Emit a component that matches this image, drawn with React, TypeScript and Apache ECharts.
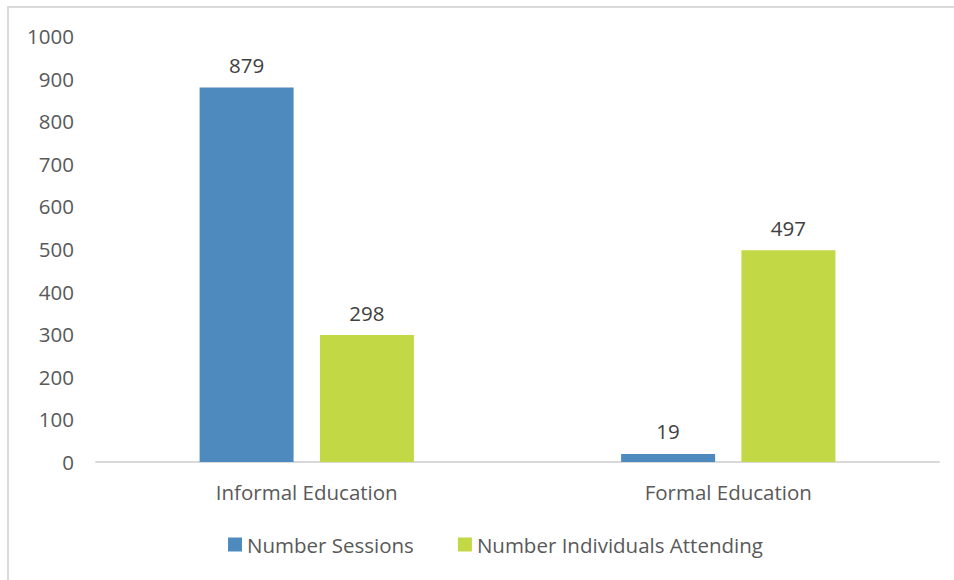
import React, { useEffect, useRef } from "react";
import * as echarts from "echarts";

const categories = ["Informal Education", "Formal Education"];
const sessions = [879, 19];
const individuals = [298, 497];
const seriesNames = ["Number Sessions", "Number Individuals Attending"];
const yTicks = { min: 0, max: 1000, interval: 100 };

const FONT = "'Open Sans', 'Noto Sans', sans-serif";
const FS = 20.5;

export default function App() {
  const ref = useRef<HTMLDivElement>(null);
  useEffect(() => {
    if (!ref.current) return;
    const chart = echarts.init(ref.current, undefined, { renderer: "svg" });
    const label = {
      show: true,
      position: "top" as const,
      distance: 12,
      color: "#404040",
      fontSize: FS,
      fontFamily: FONT,
    };
    chart.setOption({
      animation: false,
      backgroundColor: "#ffffff",
      textStyle: { fontFamily: FONT },
      grid: { left: 96, right: 15, top: 36, bottom: 118, containLabel: false },
      legend: {
        bottom: 20,
        left: 223,
        itemWidth: 14,
        itemHeight: 14,
        itemGap: 44,
        icon: "rect",
        textStyle: { color: "#595959", fontSize: FS, fontFamily: FONT },
        data: seriesNames,
      },
      xAxis: {
        type: "category",
        data: categories,
        axisLine: { lineStyle: { color: "#d9d9d9", width: 2 } },
        axisTick: { show: false },
        axisLabel: { color: "#595959", fontSize: FS, fontFamily: FONT, margin: 19 },
      },
      yAxis: {
        type: "value",
        min: yTicks.min,
        max: yTicks.max,
        interval: yTicks.interval,
        axisLine: { show: false },
        axisTick: { show: false },
        splitLine: { show: false },
        axisLabel: {
          color: "#595959",
          fontSize: FS,
          fontFamily: FONT,
          margin: 22,
          formatter: (v: number) => String(v),
        },
      },
      series: [
        {
          name: seriesNames[0],
          type: "bar",
          data: sessions,
          barWidth: 94,
          barGap: "28%",
          itemStyle: { color: "#4e8abe" },
          label,
        },
        {
          name: seriesNames[1],
          type: "bar",
          data: individuals,
          barWidth: 94,
          barGap: "28%",
          itemStyle: { color: "#c2d844" },
          label,
        },
      ],
      graphic: [
        {
          type: "polyline",
          shape: { points: [[8, 600], [8, 7], [960, 7]] },
          style: { stroke: "#d9d9d9", lineWidth: 2, fill: null },
          silent: true,
        },
      ],
    });
    return () => chart.dispose();
  }, []);
  return (
    <div
      ref={ref}
      style={{ position: "fixed", left: 0, top: 0, width: 954, height: 580 }}
    />
  );
}
